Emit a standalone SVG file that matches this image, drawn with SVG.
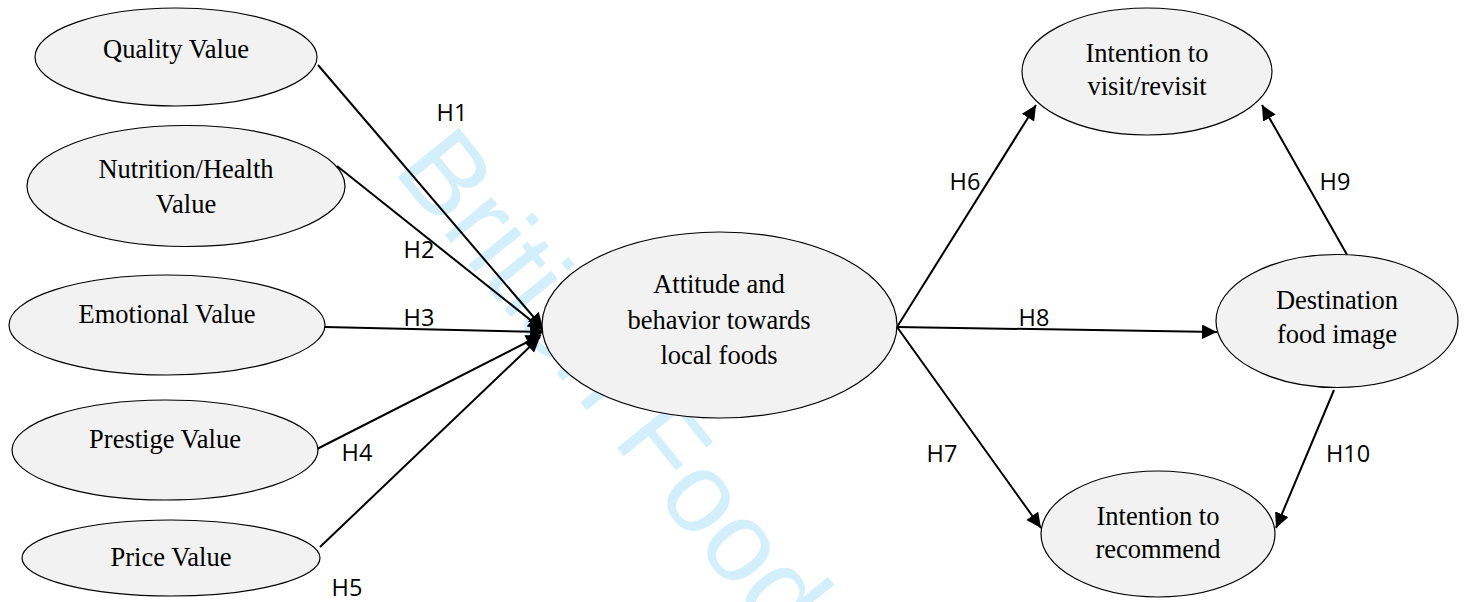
<svg xmlns="http://www.w3.org/2000/svg" width="1465" height="602" viewBox="0 0 1465 602">
<style>
.node ellipse{fill:#f2f2f2;stroke:#000;stroke-width:1.2}
.node text{font-family:"Liberation Serif","Times New Roman",serif;font-size:26.5px;fill:#000;text-anchor:middle}
.edge{stroke:#000;stroke-width:2;fill:none;marker-end:url(#arr)}
.lbl{font-family:"Open Sans","Liberation Sans",sans-serif;font-size:23.5px;fill:#000;text-anchor:middle}
.wm{font-family:"Liberation Sans","Open Sans",sans-serif;font-size:114px;fill:#d4effc}
</style>
<defs>
<marker id="arr" markerUnits="userSpaceOnUse" markerWidth="16" markerHeight="15" refX="15" refY="7.25" orient="auto">
<path d="M0,0 L15,7.25 L0,14.5 z" fill="#000"/>
</marker>
</defs>
<rect width="1465" height="602" fill="#fff"/>
<text class="wm" transform="translate(392,170) rotate(51)">British Food</text>
<g id="connectors">
<line class="edge" x1="318" y1="65" x2="543" y2="328"/>
<line class="edge" x1="337" y1="166" x2="543" y2="330"/>
<line class="edge" x1="325" y1="327" x2="545" y2="332"/>
<line class="edge" x1="315" y1="450" x2="541" y2="335"/>
<line class="edge" x1="320" y1="547" x2="540" y2="337"/>
<line class="edge" x1="897" y1="327" x2="1036" y2="105"/>
<line class="edge" x1="897" y1="327" x2="1217" y2="332"/>
<line class="edge" x1="897" y1="327" x2="1041" y2="528"/>
<line class="edge" x1="1350" y1="260" x2="1262" y2="105"/>
<line class="edge" x1="1334" y1="390" x2="1276" y2="528"/>
<text class="lbl" x="452" y="121">H1</text>
<text class="lbl" x="419" y="258">H2</text>
<text class="lbl" x="419" y="326">H3</text>
<text class="lbl" x="357" y="461">H4</text>
<text class="lbl" x="347" y="596">H5</text>
<text class="lbl" x="965" y="190">H6</text>
<text class="lbl" x="942" y="462">H7</text>
<text class="lbl" x="1034" y="326">H8</text>
<text class="lbl" x="1335" y="190">H9</text>
<text class="lbl" x="1348" y="462">H10</text>
</g>
<g id="quality" class="node"><ellipse cx="176" cy="57" rx="141" ry="49"/><text x="176" y="58">Quality Value</text></g>
<g id="nutrition" class="node"><ellipse cx="186" cy="186" rx="159" ry="60.5"/><text x="186" y="178">Nutrition/Health</text><text x="186" y="213">Value</text></g>
<g id="emotional" class="node"><ellipse cx="167" cy="325" rx="158" ry="50"/><text x="167" y="323">Emotional Value</text></g>
<g id="prestige" class="node"><ellipse cx="165" cy="450" rx="153" ry="50"/><text x="165" y="448">Prestige Value</text></g>
<g id="price" class="node"><ellipse cx="171" cy="558" rx="149" ry="38"/><text x="171" y="566">Price Value</text></g>
<g id="attitude" class="node"><ellipse cx="719.5" cy="325" rx="177.5" ry="93"/><text x="719" y="293">Attitude and</text><text x="719" y="328.5">behavior towards</text><text x="719" y="363.5">local foods</text></g>
<g id="visit" class="node"><ellipse cx="1147" cy="71.5" rx="125" ry="63.5"/><text x="1147" y="61.5">Intention to</text><text x="1147" y="95">visit/revisit</text></g>
<g id="destination" class="node"><ellipse cx="1337" cy="321" rx="121" ry="66.5"/><text x="1337" y="309">Destination</text><text x="1337" y="343">food image</text></g>
<g id="recommend" class="node"><ellipse cx="1158" cy="534" rx="117" ry="63"/><text x="1158" y="524.5">Intention to</text><text x="1158" y="558">recommend</text></g>
</svg>
